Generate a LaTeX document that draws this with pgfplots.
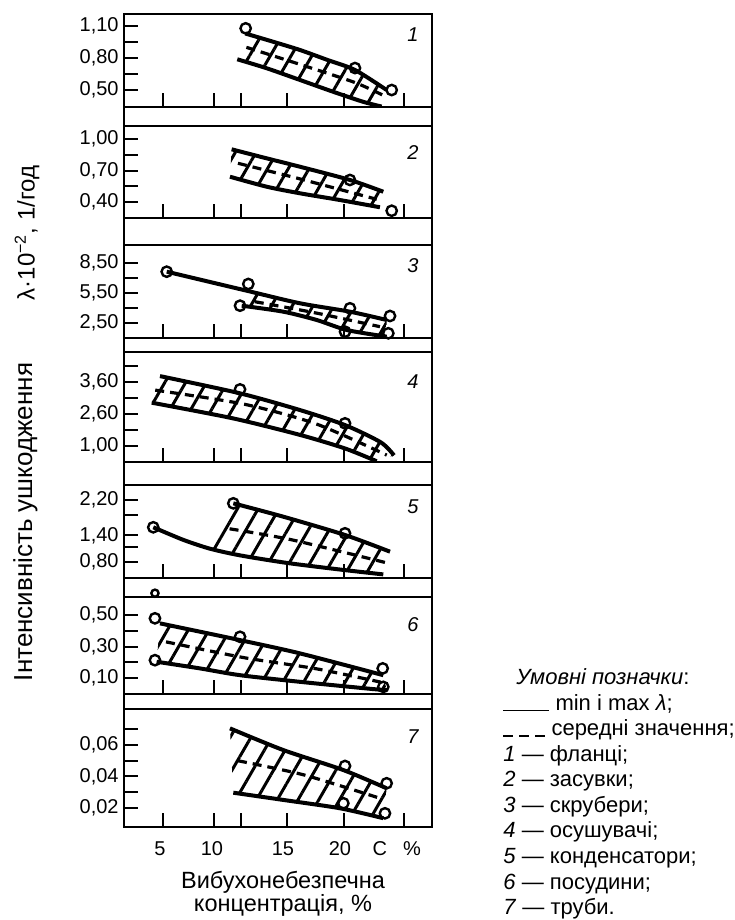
\documentclass[border=0pt]{standalone}
\usepackage{fontspec}
\setmainfont{Liberation Sans}
\usepackage{pgfplots}
\pgfplotsset{compat=1.18}
\usepgfplotslibrary{fillbetween}
\usetikzlibrary{patterns.meta}

\tikzset{num/.style={font=\fontsize{10}{12}\selectfont\itshape}}
\pgfplotsset{
  panel/.style={
    scale only axis, width=154pt, anchor=south west,
    xmin=2, xmax=27.67, scaled y ticks=false, scaled x ticks=false,
    axis line style={line width=1pt},
    tick align=inside, xtick pos=bottom, ytick pos=left,
    major tick length=7pt, minor tick length=7pt,
    tick style={black, line width=1pt},
    xtick={5.25,9.5,11.75,15.58,20.33,25.33}, xticklabels={},
    yticklabel style={font=\fontsize{10}{12}\selectfont, inner sep=0pt, xshift=-2.5pt},
    xticklabel style={font=\fontsize{10}{12}\selectfont, inner sep=0pt, yshift=-7pt},
    /pgf/number format/assume math mode=true,
  },
  lim/.style={line width=2pt, black, no markers, smooth, tension=0.45},
  med/.style={line width=1.6pt, black, no markers, dash pattern=on 4.5pt off 3pt, smooth, tension=0.45},
  pts/.style={only marks, mark=o, mark size=2.6pt, mark options={line width=1.2pt, fill=white, black}},
  hatch/.style={draw=none, pattern={Lines[angle=60,distance=9pt,line width=1.5pt]}},
}

\begin{document}
\begin{tikzpicture}

% ---------- panel 1
\begin{axis}[panel, at={(62pt,406.5pt)}, height=46.5pt,
  ymin=0.341, ymax=1.2125, ytick={0.5,0.8,1.1}, minor y tick num=1,
  yticklabels={{0,50},{0,80},{1,10}}]
\addplot[lim, name path=u1] coordinates {(12.1,1.03) (14.5,0.95) (16.67,0.875) (19,0.78) (21.25,0.688) (23.89,0.50)};
\addplot[lim, name path=l1] coordinates {(11.44,0.788) (13.89,0.704) (16.67,0.594) (19.42,0.484) (21.92,0.390) (23.47,0.345)};
\addplot[hatch] fill between[of=u1 and l1];
\addplot[med] coordinates {(12.2,0.90) (16.67,0.74) (21.25,0.57) (23.6,0.45)};
\addplot[pts] coordinates {(12.14,1.078) (21.25,0.706) (24.31,0.50)};
\node[num] at (rel axis cs:0.938,0.774) {1};
\end{axis}

% ---------- panel 2
\begin{axis}[panel, at={(62pt,351pt)}, height=46pt,
  ymin=0.248, ymax=1.124, ytick={0.4,0.7,1.0}, minor y tick num=1,
  yticklabels={{0,40},{0,70},{1,00}}]
\addplot[lim, name path=u2] coordinates {(10.97,0.902) (13.89,0.816) (16.67,0.736) (20.83,0.610) (23.61,0.498)};
\addplot[lim, name path=l2] coordinates {(10.83,0.641) (13.89,0.546) (16.67,0.483) (20,0.419) (23.33,0.350)};
\addplot[hatch] fill between[of=u2 and l2];
\addplot[med] coordinates {(11.5,0.769) (16.67,0.62) (23.06,0.426)};
\addplot[pts] coordinates {(20.83,0.61) (24.31,0.317)};
\node[num] at (rel axis cs:0.938,0.717) {2};
\end{axis}

% ---------- panel 3
\begin{axis}[panel, at={(62pt,291pt)}, height=46.5pt,
  ymin=1.0, ymax=10.3, ytick={2.5,5.5,8.5}, minor y tick num=1,
  yticklabels={{2,50},{5,50},{8,50}}]
\addplot[lim, name path=u3] coordinates {(5.56,7.63) (12.22,5.73) (16.67,4.47) (20.83,3.63) (23.89,2.80)};
\addplot[lim, name path=l3] coordinates {(11.81,4.23) (15.28,3.63) (18.06,2.80) (20.56,1.80) (23.89,1.13)};
\addplot[hatch] fill between[of=u3 and l3, soft clip={domain=11.9:23.9}];
\addplot[med] coordinates {(12.9,4.63) (18,3.5) (23.33,2.13)};
\addplot[pts] coordinates {(5.56,7.63) (12.36,6.4) (11.67,4.23) (20.83,3.97) (20.42,1.63) (24.17,3.2) (24.03,1.47)};
\node[num] at (rel axis cs:0.938,0.774) {3};
\end{axis}

% ---------- panel 4
\begin{axis}[panel, at={(62pt,229pt)}, height=55pt,
  ymin=0.35, ymax=4.82, ytick={1,2.3,3.6}, minor y tick num=1,
  yticklabels={{1,00},{2,60},{3,60}},
  extra y ticks={4.25}, extra y tick labels={}]
\addplot[lim, name path=u4] coordinates {(5.0,3.84) (11.67,3.14) (16.67,2.46) (20.42,1.85) (23.4,1.15) (24.5,0.62)};
\addplot[lim, name path=l4] coordinates {(4.31,2.76) (11.11,2.12) (16.67,1.45) (20.42,0.90) (23.06,0.38)};
\addplot[hatch] fill between[of=u4 and l4];
\addplot[med] coordinates {(4.6,3.27) (12,2.7) (18,1.9) (23.9,0.63)};
\addplot[pts] coordinates {(11.67,3.30) (20.42,1.92)};
\node[num] at (rel axis cs:0.938,0.727) {4};
\end{axis}

% ---------- panel 5
\begin{axis}[panel, at={(62pt,171pt)}, height=46.5pt,
  ymin=0.439, ymax=2.539, ytick={0.8,1.4,2.2}, minor ytick={1.14,1.86},
  yticklabels={{0,80},{1,40},{2,20}}]
\addplot[lim, name path=l5] coordinates {(4.44,1.584) (6.94,1.30) (9.17,1.10) (11.67,0.95) (15.56,0.78) (20,0.63) (23.61,0.52)};
\addplot[lim, name path=u5] coordinates {(11.11,2.125) (15.28,1.823) (20.42,1.41) (24.17,1.033)};
\addplot[hatch] fill between[of=u5 and l5, soft clip={domain=9.17:24.2}];
\addplot[med] coordinates {(10.8,1.55) (16,1.3) (23.9,0.78)};
\addplot[pts] coordinates {(4.44,1.584) (11.11,2.125) (20.42,1.448)};
\node[num] at (rel axis cs:0.938,0.763) {5};
\end{axis}

% ---------- panel 6
\begin{axis}[panel, at={(62pt,113pt)}, height=48.5pt, clip=false,
  ymin=0, ymax=0.614, ytick={0.1,0.3,0.5}, minor y tick num=1,
  yticklabels={{0,10},{0,30},{0,50}}]
\addplot[lim, name path=u6] coordinates {(5,0.447) (11.67,0.341) (16.67,0.257) (23.61,0.119)};
\addplot[lim, name path=l6] coordinates {(4.72,0.204) (8.33,0.162) (11.67,0.119) (16.67,0.077) (22.22,0.035) (23.89,0.024)};
\addplot[hatch] fill between[of=u6 and l6];
\addplot[med] coordinates {(5.5,0.33) (12,0.23) (18,0.16) (23.4,0.075)};
\addplot[pts] coordinates {(4.58,0.479) (4.58,0.214) (11.67,0.362) (23.56,0.162) (23.61,0.045)};
\addplot[pts, mark size=1.8pt] coordinates {(4.58,0.638)};
\node[num] at (rel axis cs:0.938,0.711) {6};
\end{axis}

% ---------- panel 7
\begin{axis}[panel, at={(62pt,46.5pt)}, height=59pt,
  ymin=0.0079, ymax=0.0829, ytick={0.02,0.04,0.06}, minor y tick num=1,
  yticklabels={{0,02},{0,04},{0,06}},
  extra y ticks={0.07}, extra y tick labels={},
  extra x ticks={5,9.33,15.25,20,23.33,26},
  extra x tick labels={5,10,15,20,C,\%},
  extra x tick style={tick style={draw=none}}]
\addplot[lim, name path=u7] coordinates {(10.83,0.0706) (15.28,0.0568) (20.28,0.0441) (23.89,0.0325)};
\addplot[lim, name path=l7] coordinates {(11.11,0.0297) (15.28,0.0251) (20,0.0198) (23.61,0.0135)};
\addplot[hatch] fill between[of=u7 and l7];
\addplot[med] coordinates {(11.5,0.050) (17,0.041) (23.4,0.026)};
\addplot[pts] coordinates {(20.42,0.0467) (23.89,0.0357) (20.28,0.0230) (23.75,0.0166)};
\node[num] at (rel axis cs:0.938,0.763) {7};
\end{axis}

% outer frame joining the panels
\draw[line width=1pt] (62pt,46.5pt) rectangle (216pt,453pt);

% axis labels
\node[rotate=90, font=\fontsize{12}{14}\selectfont] at (13.5pt,343.5pt) {λ·10\textsuperscript{−2}, 1/год};
\node[rotate=90, font=\fontsize{13}{15}\selectfont] at (12.7pt,199pt) {Інтенсивність ушкодження};
\node[align=center, font=\fontsize{11.75}{11.5}\selectfont] at (141.5pt,13.25pt) {Вибухонебезпечна\\концентрація, \%};

% legend text
\begin{scope}[every node/.style={anchor=base west, inner sep=0pt, font=\fontsize{11}{13}\selectfont}]
\node at (258pt,117.5pt) {\textit{Умовні позначки}:};
\node at (251.5pt,104.75pt) {\rule[-0.5pt]{23pt}{0.9pt} min i max \textit{λ};};
\node at (251.5pt,92pt) {\rule[-0.5pt]{5pt}{0.9pt}\hspace{3pt}\rule[-0.5pt]{5pt}{0.9pt}\hspace{3pt}\rule[-0.5pt]{5pt}{0.9pt} середні значення;};
\node at (251.5pt,79.25pt) {\textit{1} — фланці;};
\node at (251.5pt,66.5pt) {\textit{2} — засувки;};
\node at (251.5pt,53.75pt) {\textit{3} — скрубери;};
\node at (251.5pt,41pt) {\textit{4} — осушувачі;};
\node at (251.5pt,28.25pt) {\textit{5} — конденсатори;};
\node at (251.5pt,15.5pt) {\textit{6} — посудини;};
\node at (251.5pt,2.75pt) {\textit{7} — труби.};
\end{scope}

\pgfresetboundingbox
\path[use as bounding box] (0,0) rectangle (367pt,460pt);
\end{tikzpicture}
\end{document}
